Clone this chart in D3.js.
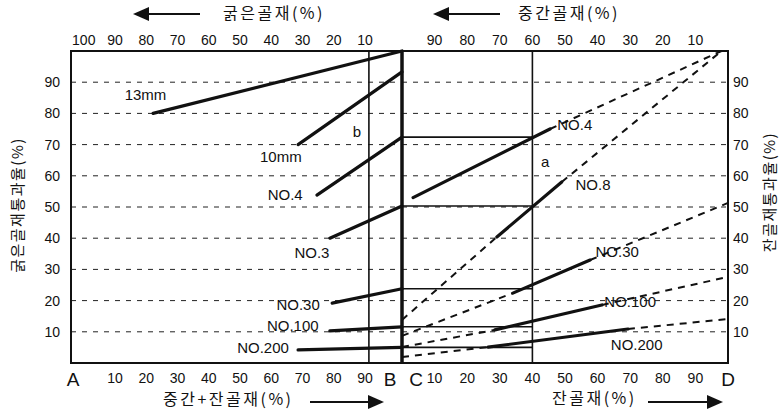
<!DOCTYPE html>
<html>
<head>
<meta charset="utf-8">
<script src="https://cdn.jsdelivr.net/npm/d3@7"></script>
<style>
  body { margin: 0; background: #fff; }
  text { font-family: "Liberation Sans", Arial, sans-serif; fill: #111; }
  .kr { font-family: "Noto Sans CJK KR", sans-serif; }
</style>
</head>
<body>
<svg id="chart" width="783" height="412"></svg>
<script>
// ---- grid / tick values (percent) ----
const gridLevels = [10, 20, 30, 40, 50, 60, 70, 80, 90];
const blendBottomTicks = [10, 20, 30, 40, 50, 60, 70, 80, 90];      // 중간+잔골재 (%)
const coarseTopTicks = [100, 90, 80, 70, 60, 50, 40, 30, 20, 10];  // 굵은골재 (%)
const fineBottomTicks = [10, 20, 30, 40, 50, 60, 70, 80, 90];       // 잔골재 (%)
const mediumTopTicks = [90, 80, 70, 60, 50, 40, 30, 20, 10];        // 중간골재 (%)

// ---- left panel: coarse aggregate vs. (medium + fine) ----
const leftSieves = ["13mm", "10mm", "NO.4", "NO.3", "NO.30", "NO.100", "NO.200"];
const leftStartX = [24.8, 68.6, 74.3, 78.2, 78.9, 78.2, 68.6];
const leftStartY = [80, 70, 53.8, 40, 19.2, 10.3, 4.2];
const leftAtB    = [100, 93.3, 72.4, 50.3, 23.8, 11.6, 5.0];
const blendCoarse = 90;   // vertical at 90 % (medium + fine)
const blendFine = 40;     // vertical at 40 % fine

// passing values carried across to the right panel
const bridgeSieves = ["NO.4", "NO.3", "NO.30", "NO.100", "NO.200"];
const bridgeValues = [72.4, 50.3, 23.8, 11.6, 5.0];

// ---- right panel: medium vs. fine aggregate ----
const rightSieves   = ["NO.4", "NO.8", "NO.30", "NO.100", "NO.200"];
const rightAtC      = [null, 13.8, 8.7, 5.1, 1.9];
const rightSolidX1  = [3.4, 29.1, 34, 28.5, 26.4];
const rightSolidY1  = [53, 40.4, 22.4, 10.6, 5.1];
const rightSolidX2  = [45.4, 49, 57.7, 61.3, 69.3];
const rightSolidY2  = [75, 58, 33, 18.6, 10.9];
const rightEndX     = [98, 98, 100, 100, 100];
const rightEndY     = [100, 100, 51.3, 27.6, 14.1];

// ---- annotation labels (panel %, passing %) ----
const leftLabels = [
  { t: "13mm", x: 22.5, y: 86 }, { t: "b", x: 86.4, y: 74 },
  { t: "10mm", x: 63.4, y: 66 }, { t: "NO.4", x: 64.7, y: 53.8 },
  { t: "NO.3", x: 72.8, y: 35.3 }, { t: "NO.30", x: 68.6, y: 18.6 },
  { t: "NO.100", x: 67, y: 12.0 }, { t: "NO.200", x: 58, y: 4.8 }
];
const rightLabels = [
  { t: "NO.4", x: 53, y: 76.3 }, { t: "a", x: 43.9, y: 64.4 },
  { t: "NO.8", x: 58.6, y: 57 }, { t: "NO.30", x: 66, y: 35.6 },
  { t: "NO.100", x: 70, y: 19.6 }, { t: "NO.200", x: 72, y: 5.8 }
];

const svg = d3.select("#chart");
const xL = d3.scaleLinear().domain([0, 100]).range([71, 402]);
const xR = d3.scaleLinear().domain([0, 100]).range([402, 728]);
const y  = d3.scaleLinear().domain([0, 100]).range([363, 51]);
// hand-lettered tick row of the left panel sits a little inside the frame
const xLtick = d3.scaleLinear().domain([10, 90]).range([115, 365]);

// dashed gridlines
const grid = svg.append("g").attr("stroke", "#222").attr("stroke-width", 1).attr("stroke-dasharray", "5,6");
gridLevels.forEach(v => {
  grid.append("line").attr("x1", xL(0)).attr("x2", xL(100)).attr("y1", y(v)).attr("y2", y(v));
  grid.append("line").attr("x1", xR(0)).attr("x2", xR(100)).attr("y1", y(v)).attr("y2", y(v));
});

// frames
svg.append("rect").attr("x", xL(0)).attr("y", y(100)).attr("width", xR(100) - xL(0)).attr("height", y(0) - y(100))
  .attr("fill", "none").attr("stroke", "#111").attr("stroke-width", 2);
svg.append("line").attr("x1", xL(100)).attr("x2", xL(100)).attr("y1", y(100)).attr("y2", y(0))
  .attr("stroke", "#111").attr("stroke-width", 3.5);
svg.append("line").attr("x1", xL(blendCoarse)).attr("x2", xL(blendCoarse)).attr("y1", y(100)).attr("y2", y(0))
  .attr("stroke", "#111").attr("stroke-width", 1.6);
svg.append("line").attr("x1", xR(blendFine)).attr("x2", xR(blendFine)).attr("y1", y(100)).attr("y2", y(0))
  .attr("stroke", "#111").attr("stroke-width", 1.6);

// left panel sieve lines
const solid = svg.append("g").attr("stroke", "#111").attr("stroke-width", 3.2).attr("stroke-linecap", "round");
leftSieves.forEach((s, i) => {
  solid.append("line").attr("x1", xL(leftStartX[i])).attr("y1", y(leftStartY[i]))
    .attr("x2", xL(100)).attr("y2", y(leftAtB[i]));
});

// horizontal carry-over lines C -> 40 %
bridgeSieves.forEach((s, i) => {
  svg.append("line").attr("x1", xR(0)).attr("x2", xR(blendFine))
    .attr("y1", y(bridgeValues[i])).attr("y2", y(bridgeValues[i]))
    .attr("stroke", "#111").attr("stroke-width", 1.6);
});

// right panel: dashed extensions and solid segments
const dashed = svg.append("g").attr("stroke", "#111").attr("stroke-width", 2).attr("stroke-dasharray", "7,6");
rightSieves.forEach((s, i) => {
  if (rightAtC[i] !== null) {
    dashed.append("line").attr("x1", xR(0)).attr("y1", y(rightAtC[i]))
      .attr("x2", xR(rightSolidX1[i])).attr("y2", y(rightSolidY1[i]));
  }
  dashed.append("line").attr("x1", xR(rightSolidX2[i])).attr("y1", y(rightSolidY2[i]))
    .attr("x2", xR(rightEndX[i])).attr("y2", y(rightEndY[i]));
  solid.append("line").attr("x1", xR(rightSolidX1[i])).attr("y1", y(rightSolidY1[i]))
    .attr("x2", xR(rightSolidX2[i])).attr("y2", y(rightSolidY2[i]));
});

// sieve labels
const lab = svg.append("g").attr("font-size", 15).attr("text-anchor", "middle");
leftLabels.forEach(d => lab.append("text").attr("x", xL(d.x)).attr("y", y(d.y)).attr("dy", "0.35em").text(d.t));
rightLabels.forEach(d => lab.append("text").attr("x", xR(d.x)).attr("y", y(d.y)).attr("dy", "0.35em").text(d.t));

// tick labels
const tk = svg.append("g").attr("font-size", 14).attr("text-anchor", "middle");
blendBottomTicks.forEach(v => tk.append("text").attr("x", xLtick(v)).attr("y", 378).attr("dy", "0.35em").text(v));
fineBottomTicks.forEach(v => tk.append("text").attr("x", xR(v)).attr("y", 378).attr("dy", "0.35em").text(v));
coarseTopTicks.forEach(v => tk.append("text").attr("x", xLtick(100 - v)).attr("y", 40).attr("dy", "0.35em").text(v));
mediumTopTicks.forEach(v => tk.append("text").attr("x", xR(100 - v)).attr("y", 40).attr("dy", "0.35em").text(v));
gridLevels.forEach(v => {
  tk.append("text").attr("x", 60).attr("y", y(v)).attr("dy", "0.35em").attr("text-anchor", "end").text(v);
  tk.append("text").attr("x", 733).attr("y", y(v)).attr("dy", "0.35em").attr("text-anchor", "start").text(v);
});

// corner letters
const corners = [["A", xL(0) + 2], ["B", xL(100) - 12], ["C", xR(0) + 14], ["D", xR(100)]];
corners.forEach(([t, x]) => svg.append("text").attr("x", x).attr("y", 379).attr("dy", "0.35em")
  .attr("text-anchor", "middle").attr("font-size", 19).text(t));

// axis titles with arrows
function arrow(x1, x2, yy) {
  const dir = Math.sign(x2 - x1);
  svg.append("line").attr("x1", x1).attr("x2", x2 - dir * 12).attr("y1", yy).attr("y2", yy)
    .attr("stroke", "#111").attr("stroke-width", 2);
  svg.append("path").attr("d", `M${x2},${yy} L${x2 - dir * 16},${yy - 7} L${x2 - dir * 16},${yy + 7} Z`).attr("fill", "#111");
}
function title(t, x, yy, anchor) {
  svg.append("text").attr("class", "kr").attr("x", x).attr("y", yy).attr("dy", "0.35em")
    .attr("text-anchor", anchor).attr("font-size", 16).attr("letter-spacing", 2.5).text(t);
}
arrow(200, 133, 14); title("굵은골재(%)", 223, 13, "start");
arrow(500, 433, 14); title("중간골재(%)", 518, 13, "start");
title("중간+잔골재(%)", 163, 399, "start"); arrow(310, 384, 402);
title("잔골재(%)", 552, 398, "start"); arrow(648, 723, 402);

svg.append("text").attr("class", "kr").attr("transform", "translate(18,205) rotate(-90)")
  .attr("text-anchor", "middle").attr("dy", "0.35em").attr("font-size", 15).attr("letter-spacing", 1.5).text("굵은골재통과율(%)");
svg.append("text").attr("class", "kr").attr("transform", "translate(770,192) rotate(-90)")
  .attr("text-anchor", "middle").attr("dy", "0.35em").attr("font-size", 15).attr("letter-spacing", 1.5).text("잔골재통과율(%)");
</script>
</body>
</html>
